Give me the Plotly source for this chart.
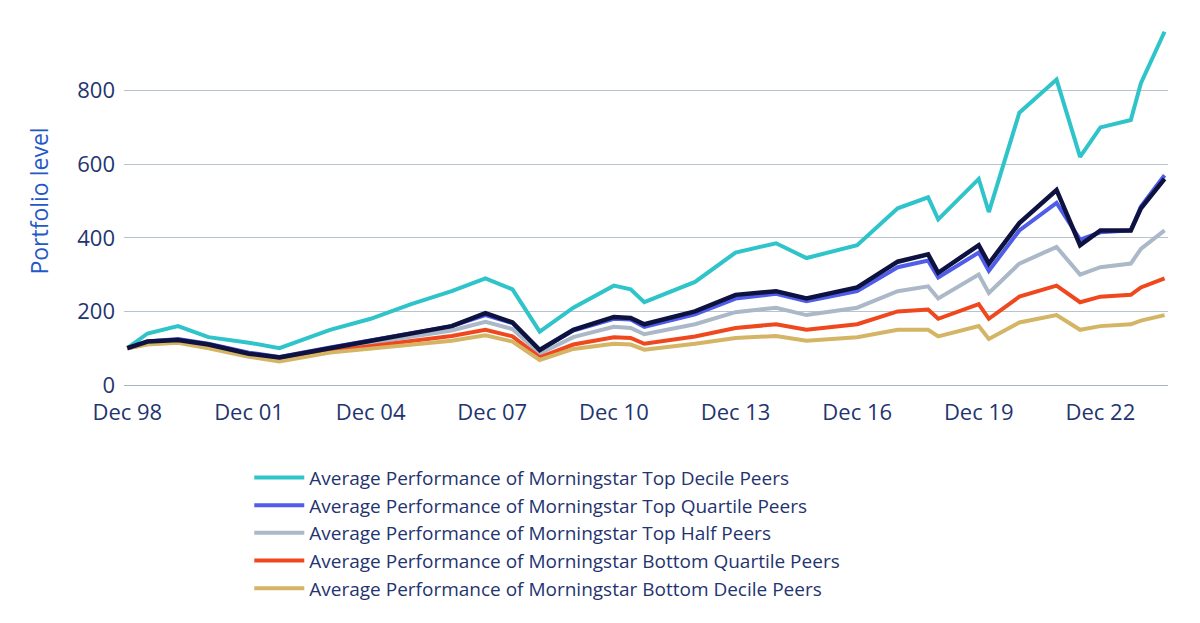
import plotly.graph_objects as go


def generate_peer_chart():
    dates = ['1998-12-01', '1999-06-01', '2000-03-01', '2000-12-01', '2001-12-01', '2002-09-01',
             '2003-12-01', '2004-12-01', '2005-12-01', '2006-12-01', '2007-10-01', '2008-06-01',
             '2009-02-01', '2009-12-01', '2010-12-01', '2011-05-01', '2011-09-01', '2012-12-01',
             '2013-12-01', '2014-12-01', '2015-09-01', '2016-12-01', '2017-12-01', '2018-09-01',
             '2018-12-01', '2019-12-01', '2020-03-01', '2020-12-01', '2021-11-01', '2022-06-01',
             '2022-12-01', '2023-09-01', '2023-12-01', '2024-07-01']

    series = {
        'Average Performance of Morningstar Top Decile Peers': (
            '#2ec4c9',
            [100, 140, 160, 130, 115, 100, 150, 180, 220, 255, 290, 260, 145, 210, 270, 260, 225, 280,
             360, 385, 345, 380, 480, 510, 450, 560, 470, 740, 830, 620, 700, 720, 820, 960]),
        'Average Performance of Morningstar Top Quartile Peers': (
            '#4f5de8',
            [100, 118, 125, 112, 88, 76, 102, 122, 142, 160, 190, 168, 95, 148, 180, 178, 158, 192,
             235, 248, 228, 255, 320, 338, 292, 360, 310, 420, 495, 395, 415, 420, 485, 570]),
        'Average Performance of Morningstar Top Half Peers': (
            '#aab8c8',
            [100, 115, 120, 108, 85, 72, 98, 115, 132, 148, 172, 152, 85, 130, 158, 155, 138, 165,
             198, 210, 190, 210, 255, 268, 235, 300, 250, 330, 375, 300, 320, 330, 370, 420]),
        'Average Performance of Morningstar Bottom Quartile Peers': (
            '#f0481e',
            [100, 112, 118, 104, 80, 68, 92, 105, 120, 133, 150, 132, 75, 110, 130, 128, 112, 132,
             155, 165, 150, 165, 200, 205, 180, 220, 180, 240, 270, 225, 240, 245, 265, 290]),
        'Average Performance of Morningstar Bottom Decile Peers': (
            '#d4b465',
            [100, 110, 115, 100, 77, 64, 88, 98, 110, 120, 135, 118, 68, 98, 112, 110, 96, 112,
             128, 133, 120, 130, 150, 150, 132, 160, 125, 170, 190, 150, 160, 165, 175, 190]),
    }
    fund = [100, 118, 122, 110, 85, 75, 100, 120, 140, 160, 195, 170, 95, 150, 185, 182, 165, 200,
            245, 255, 235, 265, 335, 355, 305, 380, 330, 440, 530, 380, 420, 420, 480, 560]

    fig = go.Figure()
    for name, (color, values) in series.items():
        fig.add_trace(go.Scatter(x=dates, y=values, name=name, mode='lines',
                                 line=dict(color=color, width=4)))
    fig.add_trace(go.Scatter(x=dates, y=fund, name='Fund', mode='lines', showlegend=False,
                             line=dict(color='#0d1240', width=4.5)))

    fig.update_layout(
        template='plotly_white',
        width=1200, height=623,
        margin=dict(l=116, r=40, t=9, b=246),
        font=dict(family='Open Sans, sans-serif', size=21, color='#1f3470'),
        showlegend=True,
        legend=dict(x=0.12, y=-0.2, xanchor='left', yanchor='top', font=dict(size=19),
                    itemwidth=50, tracegroupgap=0),
    )
    fig.update_xaxes(range=['1998-11-01', '2024-08-01'], tick0='1998-12-01', dtick='M36',
                     tickformat='%b %y', showgrid=False, showline=True, linecolor='#aab4c0',
                     ticks='outside', ticklen=8, tickcolor='rgba(0,0,0,0)', tickfont=dict(size=22))
    fig.update_yaxes(range=[0, 1000], dtick=200, gridcolor='#b7c3cf', zeroline=False,
                     tickfont=dict(size=22), ticklabelstandoff=8,
                     title=dict(text='Portfolio level', standoff=22,
                                font=dict(color='#2458c8', size=23)))

    return fig


fig = generate_peer_chart()
fig.write_html("out.html")
